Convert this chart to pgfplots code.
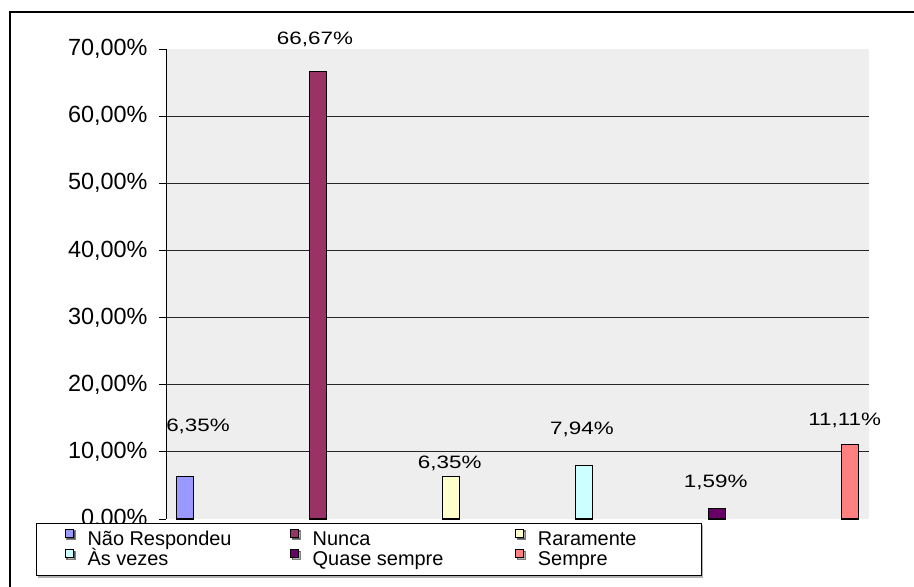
\documentclass[border=0pt]{standalone}
\usepackage{fontspec}
\setmainfont{Liberation Sans}
\usepackage{pgfplots}
\pgfplotsset{compat=1.18}
\usetikzlibrary{shadows}

\definecolor{cNR}{HTML}{9999FF}
\definecolor{cNu}{HTML}{993366}
\definecolor{cRa}{HTML}{FFFFCC}
\definecolor{cAs}{HTML}{CCFFFF}
\definecolor{cQs}{HTML}{660066}
\definecolor{cSe}{HTML}{FF8080}
\definecolor{plotbg}{HTML}{EEEEEE}

\pgfplotsset{
  barstyle/.style={ybar, bar width=17bp, bar shift=0pt, draw=black, line width=1.2bp},
}

\begin{document}
\begin{tikzpicture}
\useasboundingbox (0,0) rectangle (914bp,-587bp);
\draw[line width=1.5bp] (10bp,-587bp) -- (10bp,-12bp) -- (914bp,-12bp);
\begin{axis}[
  at={(166bp,-519bp)}, anchor=south west,
  scale only axis, width=703bp, height=470bp,
  xmin=-0.143, xmax=5.143, ymin=0, ymax=70,
  hide x axis,
  axis y line*=left,
  axis line style={black, line width=0.8bp},
  ytick={0,10,...,70},
  tick align=outside,
  major tick length=7bp,
  tick style={black, line width=0.8bp},
  extra y ticks={10,20,...,60},
  extra y tick labels={},
  extra y tick style={ymajorgrids=true, major tick length=0pt},
  major grid style={black!85, line width=0.8bp},
  /pgf/number format/assume math mode=true,
  yticklabel={\pgfmathprintnumber[fixed,fixed zerofill,precision=2,use comma]{\tick}\%},
  yticklabel style={font=\fontsize{23.5}{25}\selectfont, xshift=-8bp},
  axis background/.style={fill=plotbg},
  clip=false,
  legend columns=3,
  legend cell align=left,
  legend image code/.code={
    \path (0bp,-4bp) (50bp,15bp);
    \draw[#1, overlay, draw=black, line width=0.8bp] (28bp,8bp) rectangle (36bp,16bp);},
  legend style={at={(axis description cs:-0.185,-0.0085)}, anchor=north west,
    draw=black, line width=0.8bp, fill=white,
    inner xsep=0pt, inner ysep=6bp,
    column sep=0pt, row sep=0pt,
    cells={anchor=base west},
    nodes={inner sep=0pt, text height=15bp, text depth=4bp},
    drop shadow={shadow xshift=2bp, shadow yshift=-2bp, fill=black!60},
    font=\fontsize{20}{20}\selectfont},
]
\addplot[barstyle, fill=cNR] coordinates {(0,6.35)};
\addlegendentry{\makebox[174bp][l]{Não Respondeu}}
\addplot[barstyle, fill=cNu] coordinates {(1,66.67)};
\addlegendentry{\makebox[174bp][l]{Nunca}}
\addplot[barstyle, fill=cRa] coordinates {(2,6.35)};
\addlegendentry{\makebox[163bp][l]{Raramente}}
\addplot[barstyle, fill=cAs] coordinates {(3,7.94)};
\addlegendentry{\makebox[174bp][l]{Às vezes}}
\addplot[barstyle, fill=cQs] coordinates {(4,1.59)};
\addlegendentry{\makebox[174bp][l]{Quase sempre}}
\addplot[barstyle, fill=cSe] coordinates {(5,11.11)};
\addlegendentry{\makebox[163bp][l]{Sempre}}
% data labels (positions as placed in the original chart)
\addplot[forget plot, only marks, mark=none, nodes near coords,
  point meta=explicit symbolic,
  every node near coord/.append style={anchor=base, inner sep=0pt,
    font=\fontsize{18}{20}\selectfont, xscale=1.25}]
  coordinates {
    (0.098,12.96) [6,35\%]
    (0.977,70.60) [66,67\%]
    (1.99,7.45) [6,35\%]
    (2.985,12.66) [7,94\%]
    (3.99,4.62) [1,59\%]
    (4.96,14.0) [11,11\%]
  };
\end{axis}
\end{tikzpicture}
\end{document}
